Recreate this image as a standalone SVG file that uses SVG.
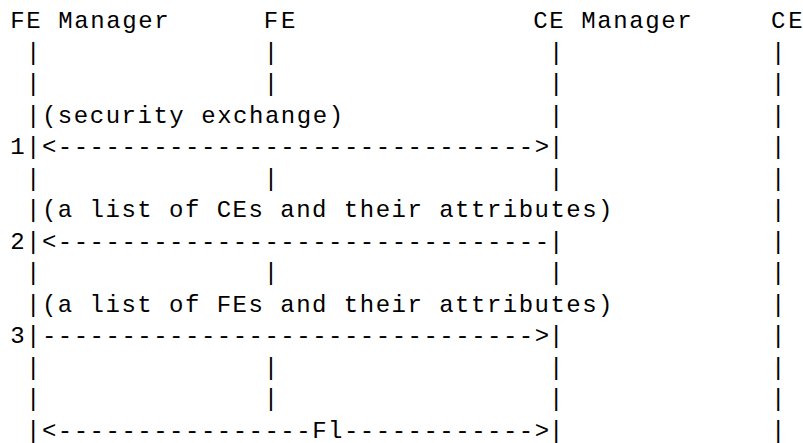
<svg xmlns="http://www.w3.org/2000/svg" width="803" height="443" viewBox="0 0 803 443">
<style>
.t{font-family:"Liberation Mono","Courier New","DejaVu Sans Mono",monospace;font-size:24px;fill:#000}
</style>
<rect x="0" y="0" width="803" height="443" fill="#fff"/>
<g id="node-fe-manager">
<text class="t" x="10.22" y="28" textLength="158.5" lengthAdjust="spacing">FE Manager</text>
<text class="t"><tspan x="26.07" y="59.5">|</tspan><tspan x="26.07" y="91">|</tspan><tspan x="26.07" y="122.5">|</tspan><tspan x="26.07" y="154">|</tspan><tspan x="26.07" y="185.5">|</tspan><tspan x="26.07" y="217">|</tspan><tspan x="26.07" y="248.5">|</tspan><tspan x="26.07" y="280">|</tspan><tspan x="26.07" y="311.5">|</tspan><tspan x="26.07" y="343">|</tspan><tspan x="26.07" y="374.5">|</tspan><tspan x="26.07" y="406">|</tspan><tspan x="26.07" y="437.5">|</tspan></text>
</g>
<g id="node-fe">
<text class="t" x="263.82" y="28" textLength="31.7" lengthAdjust="spacing">FE</text>
<text class="t"><tspan x="263.82" y="59.5">|</tspan><tspan x="263.82" y="91">|</tspan><tspan x="263.82" y="185.5">|</tspan><tspan x="263.82" y="280">|</tspan><tspan x="263.82" y="374.5">|</tspan><tspan x="263.82" y="406">|</tspan></text>
</g>
<g id="node-ce-manager">
<text class="t" x="533.27" y="28" textLength="158.5" lengthAdjust="spacing">CE Manager</text>
<text class="t"><tspan x="549.12" y="59.5">|</tspan><tspan x="549.12" y="91">|</tspan><tspan x="549.12" y="122.5">|</tspan><tspan x="549.12" y="154">|</tspan><tspan x="549.12" y="185.5">|</tspan><tspan x="549.12" y="248.5">|</tspan><tspan x="549.12" y="280">|</tspan><tspan x="549.12" y="343">|</tspan><tspan x="549.12" y="374.5">|</tspan><tspan x="549.12" y="406">|</tspan><tspan x="549.12" y="437.5">|</tspan></text>
</g>
<g id="node-ce">
<text class="t" x="771.02" y="28" textLength="31.7" lengthAdjust="spacing">CE</text>
<text class="t"><tspan x="771.02" y="59.5">|</tspan><tspan x="771.02" y="91">|</tspan><tspan x="771.02" y="122.5">|</tspan><tspan x="771.02" y="154">|</tspan><tspan x="771.02" y="185.5">|</tspan><tspan x="771.02" y="217">|</tspan><tspan x="771.02" y="248.5">|</tspan><tspan x="771.02" y="280">|</tspan><tspan x="771.02" y="311.5">|</tspan><tspan x="771.02" y="343">|</tspan><tspan x="771.02" y="374.5">|</tspan><tspan x="771.02" y="406">|</tspan><tspan x="771.02" y="437.5">|</tspan></text>
</g>
<g id="connectors">
<g id="msg-1">
<text class="t" x="41.92" y="122.5" textLength="301.15" lengthAdjust="spacing">(security exchange)</text>
<text class="t" x="10.22" y="154">1</text>
<text class="t" x="41.92" y="154" textLength="507.2" lengthAdjust="spacing">&lt;------------------------------&gt;</text>
</g>
<g id="msg-2">
<text class="t" x="41.92" y="217" textLength="570.6" lengthAdjust="spacing">(a list of CEs and their attributes)</text>
<text class="t" x="10.22" y="248.5">2</text>
<text class="t" x="41.92" y="248.5" textLength="507.2" lengthAdjust="spacing">&lt;-------------------------------</text>
</g>
<g id="msg-3">
<text class="t" x="41.92" y="311.5" textLength="570.6" lengthAdjust="spacing">(a list of FEs and their attributes)</text>
<text class="t" x="10.22" y="343">3</text>
<text class="t" x="41.92" y="343" textLength="507.2" lengthAdjust="spacing">-------------------------------&gt;</text>
</g>
<g id="msg-fl">
<text class="t" x="41.92" y="437.5" textLength="507.2" lengthAdjust="spacing">&lt;----------------Fl------------&gt;</text>
</g>
</g>
</svg>
